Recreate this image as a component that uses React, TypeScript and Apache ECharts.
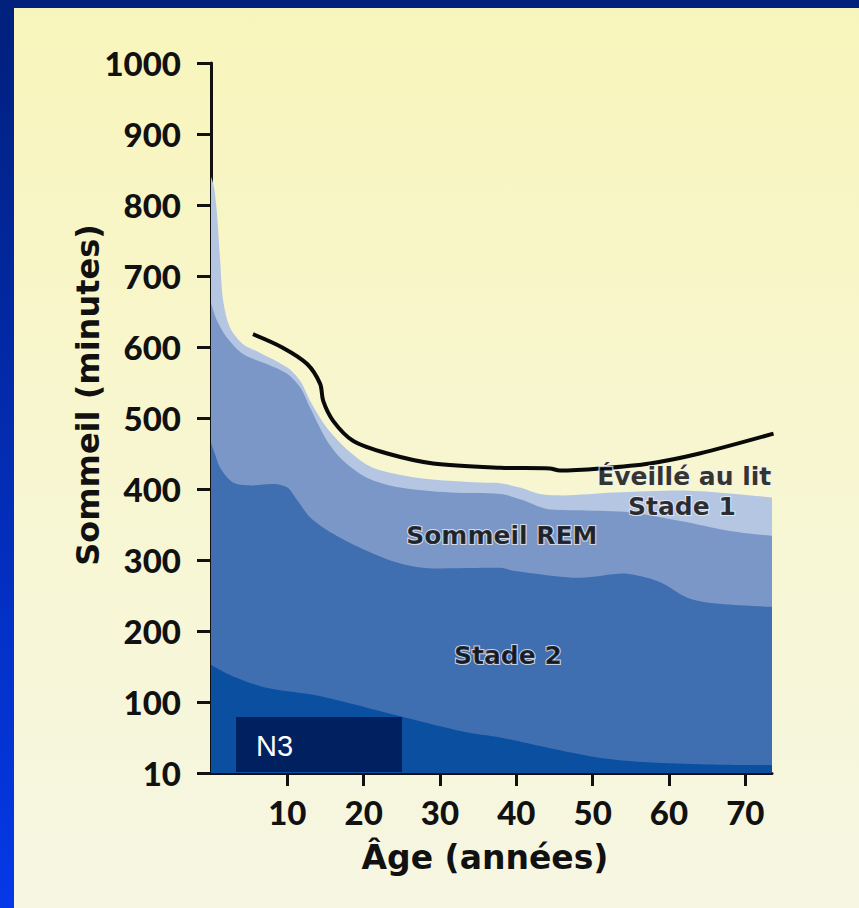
import React, { useEffect, useRef } from "react";
import * as echarts from "echarts";

// ---- Data (age in years, cumulative minutes) ----
const xTicks = [10, 20, 30, 40, 50, 60, 70];
const yTicks = [0, 100, 200, 300, 400, 500, 600, 700, 800, 900, 1000];
const yTickLabels = ["10", "100", "200", "300", "400", "500", "600", "700", "800", "900", "1000"];

// top of "Stade 1" (total sleep)
const stade1Top: [number, number][] = [
  [0, 840], [0.4, 825], [0.75, 792], [1.2, 722], [1.6, 665], [2.5, 627], [4.2, 604],
  [6.4, 592], [10, 571], [11.7, 552], [13, 524], [15.2, 486], [18.2, 452], [21.2, 430],
  [27, 416], [35.3, 409], [37.9, 408], [40.5, 402], [43.1, 393], [46.1, 391],
  [52.7, 395], [61.5, 398], [73.5, 388],
];
// top of "Sommeil REM"
const remTop: [number, number][] = [
  [0, 662], [0.8, 637], [2.1, 613], [4.2, 590], [7.3, 576], [10, 562], [11.7, 543],
  [13, 514], [15.2, 468], [17.3, 440], [20.4, 416], [24.8, 402], [31.3, 395],
  [37.9, 393], [40.9, 384], [44, 372], [48.4, 370], [54.9, 367], [61.5, 355],
  [68, 341], [73.5, 334],
];
// top of "Stade 2"
const stade2Top: [number, number][] = [
  [0, 465], [0.5, 450], [1.2, 430], [2.9, 409], [5.1, 405], [8.1, 407], [10, 402],
  [11.3, 384], [13, 360], [16, 337], [20.4, 313], [24.8, 295], [29.1, 288],
  [37.9, 289], [39.6, 285], [48.4, 275], [54, 281], [57.1, 275], [59.2, 267],
  [62.4, 247], [65.8, 239], [73.5, 234],
];
// top of "N3"
const n3Top: [number, number][] = [
  [0, 152], [2.9, 136], [7.3, 120], [13.9, 109], [20.4, 92], [27, 74], [33.6, 57],
  [37.9, 50], [44, 36], [50.6, 22], [57.1, 15], [65, 12], [73.5, 11],
];
// "Éveillé au lit" (time in bed)
const timeInBed: [number, number][] = [
  [5.5, 618], [9.4, 599], [12.6, 576], [14.3, 548], [14.7, 524], [16, 496],
  [18.6, 468], [23.1, 450], [29.1, 436], [37.9, 430], [44.4, 429], [45.7, 426],
  [51, 429], [57.5, 436], [64, 450], [73.7, 478],
];
// in-chart labels: [age, minutes, text]
const stageLabels: [number, number, string][] = [
  [62, 418, "Éveillé au lit"],
  [61.7, 375, "Stade 1"],
  [38.1, 334, "Sommeil REM"],
  [38.9, 166, "Stade 2"],
];

const FONT = "Lato, 'DejaVu Sans', sans-serif";
const WIDE = "'DejaVu Sans', Lato, sans-serif";

export default function App() {
  const ref = useRef<HTMLDivElement>(null);
  useEffect(() => {
    if (!ref.current) return;
    const chart = echarts.init(ref.current, undefined, { renderer: "svg" });
    const area = (name: string, data: [number, number][], color: string) => ({
      name,
      type: "line",
      data,
      smooth: 0.3,
      symbol: "none",
      lineStyle: { width: 0 },
      areaStyle: { color, opacity: 1 },
      silent: true,
    });
    chart.setOption({
      animation: false,
      backgroundColor: {
        type: "linear", x: 0, y: 0, x2: 0, y2: 1,
        colorStops: [
          { offset: 0, color: "#00207c" },
          { offset: 1, color: "#0538e8" },
        ],
      },
      graphic: [
        {
          type: "rect",
          z: -10,
          silent: true,
          shape: { x: 14, y: 8, width: 845, height: 900 },
          style: {
            fill: {
              type: "linear", x: 0, y: 0, x2: 0, y2: 1,
              colorStops: [
                { offset: 0, color: "#f8f5bc" },
                { offset: 0.45, color: "#f8f6cf" },
                { offset: 1, color: "#f6f6e3" },
              ],
            },
          },
        },
        {
          type: "text",
          x: 88,
          y: 395,
          rotation: Math.PI / 2,
          style: {
            text: "Sommeil (minutes)",
            font: `bold 32px ${WIDE}`,
            fill: "#111",
            align: "center",
            verticalAlign: "middle",
          },
        },
        {
          type: "text",
          x: 485,
          y: 857,
          style: {
            text: "Âge (années)",
            font: `bold 33px ${WIDE}`,
            fill: "#111",
            align: "center",
            verticalAlign: "middle",
          },
        },
        {
          type: "rect",
          z: 100,
          shape: { x: 236, y: 717, width: 166, height: 55 },
          style: { fill: "#00205f" },
        },
        {
          type: "text",
          z: 101,
          x: 256,
          y: 746,
          style: {
            text: "N3",
            font: `29px 'Liberation Sans', Arial, sans-serif`,
            fill: "#ffffff",
            align: "left",
            verticalAlign: "middle",
          },
        },
      ],
      grid: { left: 211, right: 87, top: 63, bottom: 135 },
      xAxis: {
        type: "value",
        min: 0,
        max: 73.5,
        splitLine: { show: false },
        axisLine: { show: true, lineStyle: { color: "#111", width: 3 } },
        axisTick: {
          show: true,
          customValues: xTicks,
          length: 13,
          lineStyle: { color: "#111", width: 3 },
        },
        axisLabel: {
          customValues: xTicks,
          margin: 22,
          color: "#111",
          fontFamily: FONT,
          fontWeight: 900,
          fontSize: 33,
        },
      },
      yAxis: {
        type: "value",
        min: 0,
        max: 1000,
        splitLine: { show: false },
        axisLine: { show: true, lineStyle: { color: "#111", width: 3 } },
        axisTick: {
          show: true,
          customValues: yTicks,
          length: 14,
          lineStyle: { color: "#111", width: 3 },
        },
        axisLabel: {
          customValues: yTicks,
          margin: 30,
          color: "#111",
          fontFamily: FONT,
          fontWeight: 900,
          fontSize: 33,
          formatter: (v: number) => yTickLabels[yTicks.indexOf(v)] ?? "",
        },
      },
      series: [
        area("Stade 1", stade1Top, "#b4c6e2"),
        area("Sommeil REM", remTop, "#7b97c8"),
        area("Stade 2", stade2Top, "#3f6fb0"),
        area("N3", n3Top, "#0a4fa0"),
        {
          name: "Éveillé au lit",
          type: "line",
          data: timeInBed,
          smooth: 0.3,
          symbol: "none",
          lineStyle: { color: "#0a0a0a", width: 4 },
          silent: true,
          z: 5,
        },
        {
          name: "labels",
          type: "scatter",
          symbolSize: 0,
          silent: true,
          z: 6,
          data: stageLabels.map((d) => ({ value: [d[0], d[1]], name: d[2] })),
          label: {
            show: true,
            position: "inside",
            formatter: (p: any) => p.name,
            color: "#000",
            fontFamily: WIDE,
            fontWeight: "bold",
            fontSize: 25,
            textBorderColor: "#eef0f6",
            textBorderWidth: 2,
          },
        },
      ],
    });
    return () => chart.dispose();
  }, []);
  return (
    <div
      ref={ref}
      style={{ position: "fixed", left: 0, top: 0, width: 859, height: 908 }}
    />
  );
}
